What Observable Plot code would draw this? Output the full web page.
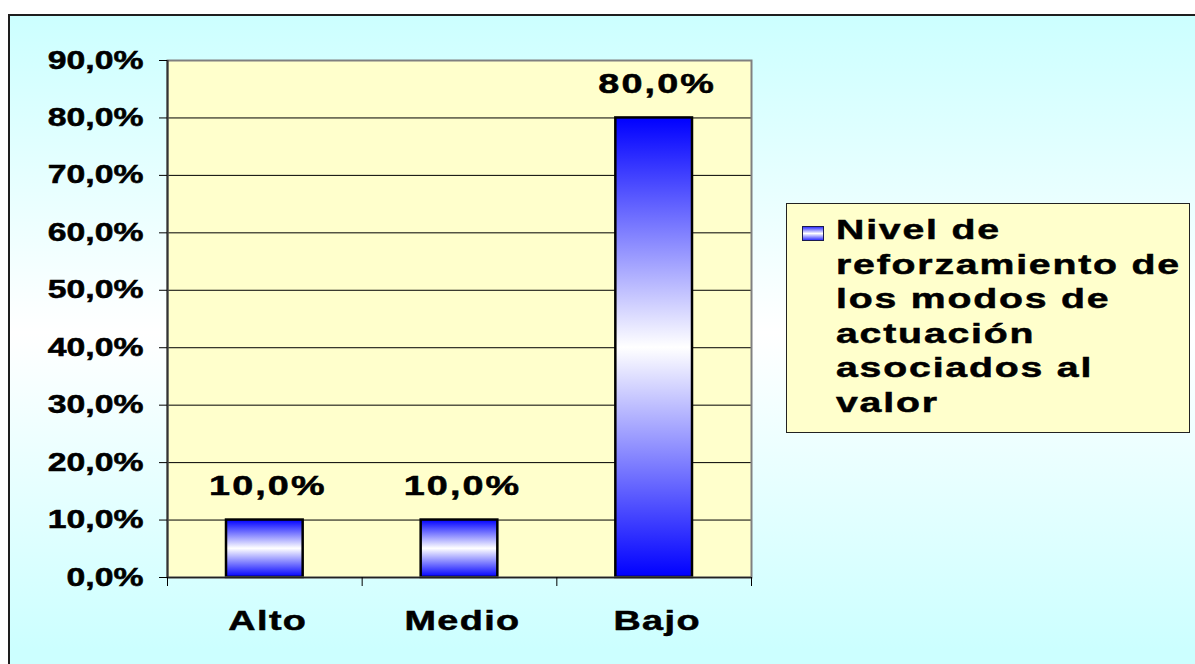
<!DOCTYPE html>
<html>
<head>
<meta charset="utf-8">
<script src="https://cdn.jsdelivr.net/npm/d3@7"></script>
<script src="https://cdn.jsdelivr.net/npm/@observablehq/plot@0.6"></script>
<style>
  html, body { margin: 0; padding: 0; background: #ffffff; }
  #wrap { position: relative; width: 1195px; height: 664px; overflow: hidden; background: #ffffff; }
  #frame {
    position: absolute; left: 8px; top: 14px; width: 1200px; height: 660px;
    border-left: 2px solid #1e1e1e; border-top: 2px solid #1e1e1e;
    background: linear-gradient(to bottom, #ccffff 0%, #ffffff 48%, #ccffff 96%);
  }
  #chart { position: absolute; left: 0; top: 0; }
  #legend {
    position: absolute; left: 786px; top: 203px; width: 402px; height: 228px;
    border: 1.5px solid #222; background: #ffffcc; box-sizing: content-box;
    font-family: "Liberation Sans", Arial, sans-serif; font-weight: bold;
    font-size: 28px; letter-spacing: 1.3px; line-height: 34.5px; color: #000;
    -webkit-text-stroke: 0.5px #000;
  }
  #legend .txt { position: absolute; left: 49px; top: 9px; white-space: nowrap;
    transform: scale(1.4, 1); transform-origin: 0 0; }
  #legend .sw {
    position: absolute; left: 15px; top: 22px; width: 20px; height: 13px;
    border: 1.5px solid #1a1a4d;
    background: linear-gradient(to bottom, #3333ff 0%, #ffffff 50%, #3333ff 100%);
  }
  g[aria-label="x-axis tick label"] text { letter-spacing: 1px; }
  g[aria-label="text"] text { letter-spacing: 1.5px; }
  g[aria-label="y-axis tick label"] text,
  g[aria-label="x-axis tick label"] text,
  g[aria-label="text"] text { stroke: #000; stroke-width: 0.5px; }
</style>
</head>
<body>
<div id="wrap">
  <div id="frame"></div>
  <div id="chart"></div>
  <div id="legend"><div class="sw"></div><div class="txt"></div></div>
</div>
<script>
const categories = ["Alto", "Medio", "Bajo"];
const values = [0.10, 0.10, 0.80];
const yTicks = [0, 0.1, 0.2, 0.3, 0.4, 0.5, 0.6, 0.7, 0.8, 0.9];
const legendLines = ["Nivel de", "reforzamiento de", "los modos de", "actuación", "asociados al", "valor"];

const fmt = d => (d * 100).toFixed(1).replace(".", ",") + "%";
const data = categories.map((c, i) => ({category: c, i, value: values[i]}));

const defsMark = () => {
  const defs = d3.create("svg:defs");
  const g = defs.append("linearGradient").attr("id", "barGrad")
    .attr("x1", 0).attr("y1", 0).attr("x2", 0).attr("y2", 1);
  g.append("stop").attr("offset", 0).attr("stop-color", "#0000ff");
  g.append("stop").attr("offset", 0.5).attr("stop-color", "#ffffff");
  g.append("stop").attr("offset", 1).attr("stop-color", "#0000ff");
  return defs.node();
};

const chart = Plot.plot({
  width: 1195,
  height: 664,
  marginLeft: 167,
  marginRight: 444,
  marginTop: 60,
  marginBottom: 87,
  style: {background: "transparent", color: "black", fontFamily: "'Liberation Sans', Arial, sans-serif", fontWeight: "bold"},
  x: {domain: [0, 3], axis: null, label: null},
  y: {domain: [0, 0.9], axis: null, label: null},
  marks: [
    defsMark,
    Plot.frame({fill: "#ffffcc", stroke: null}),
    Plot.ruleY(yTicks.slice(1, -1), {stroke: "black", strokeWidth: 1}),
    Plot.rectY(data, {x1: d => d.i, x2: d => d.i + 1, y1: 0, y2: "value", insetLeft: 59, insetRight: 59,
      fill: "url(#barGrad)", stroke: "black", strokeWidth: 2.5}),
    Plot.frame({stroke: "#808080", strokeWidth: 2}),
    Plot.ruleX([0], {stroke: "#333333", strokeWidth: 2}),
    Plot.ruleY([0], {stroke: "#222222", strokeWidth: 1.5}),
    Plot.axisY(yTicks, {anchor: "left", label: null, tickSize: 8, tickPadding: 16, tickFormat: fmt, fontSize: 25, fontWeight: "bold", stroke: "black"}),
    Plot.axisX([0, 1, 2, 3], {anchor: "bottom", label: null, tickSize: 9, tickFormat: () => "", stroke: "black"}),
    Plot.axisX([0.5, 1.5, 2.5], {anchor: "bottom", label: null, tickSize: 0, tickPadding: 33, dx: 3,
      tickFormat: d => categories[Math.floor(d)], fontSize: 27, fontWeight: "bold"}),
    Plot.text(data, {x: d => d.i + 0.5, y: "value", text: d => fmt(d.value), dy: -34, dx: 3,
      fontSize: 27, fontWeight: "bold", fill: "black"})
  ]
});

function stretch(selector, s) {
  chart.querySelectorAll(selector).forEach(t => {
    const tr = t.getAttribute("transform");
    if (tr) {
      t.setAttribute("transform", tr + ` scale(${s},1)`);
    } else {
      const x = +t.getAttribute("x") || 0, y = +t.getAttribute("y") || 0;
      t.removeAttribute("x"); t.removeAttribute("y");
      t.setAttribute("transform", `translate(${x},${y}) scale(${s},1)`);
    }
  });
}
stretch('g[aria-label="y-axis tick label"] text', 1.35);
stretch('g[aria-label="x-axis tick label"] text', 1.4);
stretch('g[aria-label="text"] text', 1.4);

document.getElementById("chart").appendChild(chart);
document.querySelector("#legend .txt").innerHTML = legendLines.join("<br>");
</script>
</body>
</html>
